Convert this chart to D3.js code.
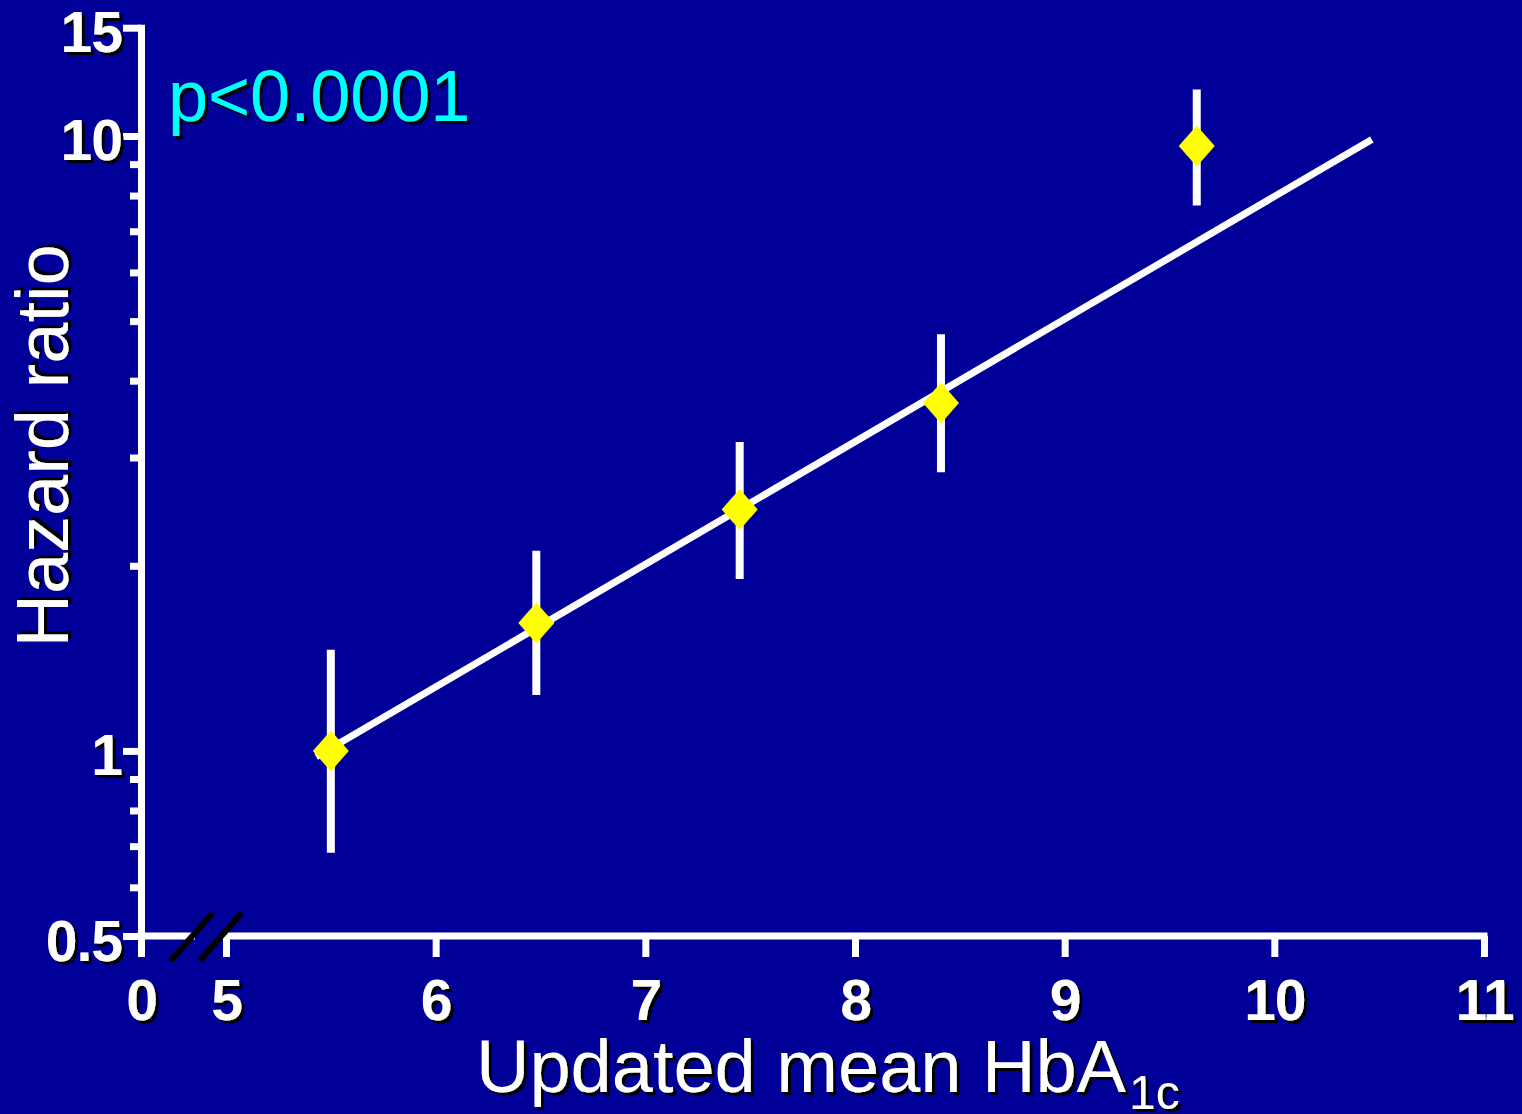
<!DOCTYPE html>
<html>
<head>
<meta charset="utf-8">
<script src="https://cdn.jsdelivr.net/npm/d3@7"></script>
<style>
  html, body { margin: 0; padding: 0; background: #000099; }
  svg { display: block; }
  text { font-family: "Liberation Sans", Arial, Helvetica, sans-serif; }
</style>
</head>
<body>
<svg id="chart" width="1522" height="1114"></svg>
<script>
// Updated mean HbA1c category midpoints and hazard ratios with 95% CI
const hba1c   = [5.5, 6.48, 7.45, 8.41, 9.63];
const hazard  = [1.0, 1.615, 2.47, 3.68, 9.63];
const ciLow   = [0.683, 1.233, 1.904, 2.84, 7.71];
const ciHigh  = [1.46, 2.115, 3.18, 4.76, 11.9];

// Fitted log-linear trend (end points)
const fitX  = [5.43, 10.465];
const fitHR = [0.978, 9.87];

// Axis ticks
const xTicks      = [0, 5, 6, 7, 8, 9, 10, 11];
const yMajorTicks = [0.5, 1, 10, 15];
const yMinorTicks = [0.6, 0.7, 0.8, 0.9, 2, 3, 4, 5, 6, 7, 8, 9];

const pLabel = "p<0.0001";

const W = 1522, H = 1114;
const svg = d3.select("#chart");

svg.append("rect").attr("width", W).attr("height", H).attr("fill", "#000099");

const defs = svg.append("defs");
defs.append("filter").attr("id", "shadow")
  .attr("x", "-10%").attr("y", "-10%").attr("width", "130%").attr("height", "130%")
  .append("feDropShadow")
  .attr("dx", 3).attr("dy", 3).attr("stdDeviation", 0)
  .attr("flood-color", "#000").attr("flood-opacity", 1);

// Broken x axis: 0 sits at the origin, then 5..11 on a linear stretch
const x = d3.scaleLinear().domain([0, 5, 11]).range([141, 226, 1484]);
const y = d3.scaleLog().domain([0.5, 15]).range([936, 27.7]);

const axisColor = "#ffffff";
const axisWidth = 7;
const labelSize = 57;

// Y axis minor ticks
const yMinor = svg.append("g")
  .attr("transform", `translate(${x(0)},0)`)
  .call(d3.axisLeft(y).tickValues(yMinorTicks).tickSize(11).tickSizeOuter(0).tickFormat(""));
yMinor.select(".domain").remove();
yMinor.selectAll(".tick line").attr("stroke", axisColor).attr("stroke-width", axisWidth);

// Y axis major ticks + labels
const yAxis = svg.append("g")
  .attr("transform", `translate(${x(0)},0)`)
  .call(d3.axisLeft(y).tickValues(yMajorTicks).tickSize(18).tickSizeOuter(0)
    .tickFormat(d3.format("")));
yAxis.select(".domain").attr("stroke", axisColor).attr("stroke-width", axisWidth)
  .attr("stroke-linecap", "square");
yAxis.selectAll(".tick line").attr("stroke", axisColor).attr("stroke-width", axisWidth);
yAxis.selectAll(".tick text")
  .attr("x", -19).attr("dy", 24)
  .attr("fill", "#fff").attr("font-size", labelSize).attr("font-weight", "bold")
  .attr("letter-spacing", -1)
  .attr("filter", "url(#shadow)");

// Break slash positions on the x axis
const breakCenters = [191.5, 220.5];
const breakHalfW = 21, breakHalfH = 24;

// X axis
const xAxis = svg.append("g")
  .attr("transform", `translate(0,${y(0.5)})`)
  .call(d3.axisBottom(x).tickValues(xTicks).tickSize(21).tickSizeOuter(0)
    .tickFormat(d3.format("d")));
// axis line is interrupted between the two break slashes
xAxis.select(".domain")
  .attr("d", `M${x(0)},0H${breakCenters[0]}M${x(5)},0H${x(11)}`)
  .attr("fill", "none")
  .attr("stroke", axisColor).attr("stroke-width", axisWidth)
  .attr("stroke-linecap", "square");
xAxis.selectAll(".tick line").attr("stroke", axisColor).attr("stroke-width", axisWidth);
xAxis.selectAll(".tick text")
  .attr("y", 84).attr("dy", 0)
  .attr("fill", "#fff").attr("font-size", labelSize).attr("font-weight", "bold")
  .attr("letter-spacing", -1)
  .attr("filter", "url(#shadow)");

// Axis break marks between 0 and 5
breakCenters.forEach(cx => {
  svg.append("line")
    .attr("x1", cx - breakHalfW).attr("y1", y(0.5) + breakHalfH + 1)
    .attr("x2", cx + breakHalfW).attr("y2", y(0.5) - breakHalfH + 1)
    .attr("stroke", "#000").attr("stroke-width", 6);
});

// Trend line
svg.append("line")
  .attr("x1", x(fitX[0])).attr("y1", y(fitHR[0]))
  .attr("x2", x(fitX[1])).attr("y2", y(fitHR[1]))
  .attr("stroke", "#fff").attr("stroke-width", 7);

// Confidence interval bars
svg.append("g").selectAll("line")
  .data(hba1c)
  .join("line")
  .attr("x1", (d) => x(d)).attr("x2", (d) => x(d))
  .attr("y1", (d, i) => y(ciHigh[i])).attr("y2", (d, i) => y(ciLow[i]))
  .attr("stroke", "#fff").attr("stroke-width", 8);

// Point estimates as diamonds
const dw = 18, dh = 20.5;
svg.append("g").selectAll("path")
  .data(hba1c)
  .join("path")
  .attr("d", (d, i) => {
    const cx = x(d), cy = y(hazard[i]);
    return `M${cx},${cy - dh}L${cx + dw},${cy}L${cx},${cy + dh}L${cx - dw},${cy}Z`;
  })
  .attr("fill", "#ffff00");

// P-value annotation
svg.append("text")
  .attr("x", 168).attr("y", 121)
  .attr("fill", "#00ffff").attr("font-size", 72)
  .attr("filter", "url(#shadow)")
  .text(pLabel);

// Y axis title
svg.append("text")
  .attr("transform", "translate(68,446) rotate(-90)")
  .attr("text-anchor", "middle")
  .attr("fill", "#fff").attr("font-size", 74)
  .attr("filter", "url(#shadow)")
  .text("Hazard ratio");

// X axis title with subscript
const xt = svg.append("text")
  .attr("x", 476).attr("y", 1092)
  .attr("fill", "#fff").attr("font-size", 74)
  .attr("filter", "url(#shadow)");
xt.append("tspan").text("Updated mean HbA");
xt.append("tspan").attr("font-size", 48).attr("dx", 3).attr("dy", 17).text("1c");
</script>
</body>
</html>
